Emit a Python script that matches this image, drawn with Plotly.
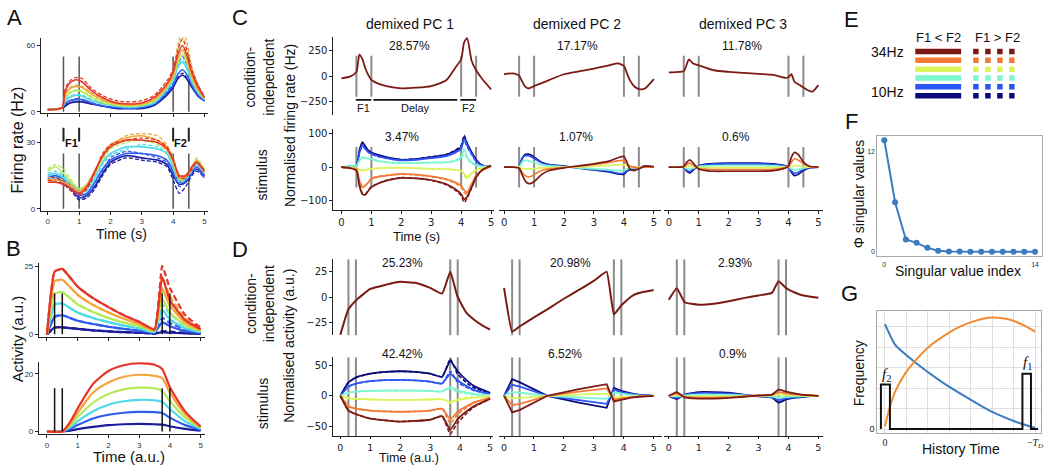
import plotly.graph_objects as go

W, H = 1051, 469
SANS = "Liberation Sans, Arial, sans-serif"
DJV = "DejaVu Sans, sans-serif"
SERIF = "Liberation Serif, DejaVu Serif, serif"

# colours: index 0 = 10 Hz (navy) ... 5 = 34 Hz (red)
AB_COLORS = ["#1c1c9c", "#2f5bf0", "#4fd9ea", "#b4ea5a", "#f4a53b", "#e5352a"]
CD_COLORS = ["#0a0a7a", "#2b55f5", "#7cf7d0", "#daf55a", "#f47a35", "#7b1a14"]

# ---------------- Panel A (firing rate, Hz) ----------------
A_T1 = [0, 0.45, 0.55, 0.7, 0.9, 1.1, 1.4, 1.8, 2.2, 2.6, 3.0, 3.4, 3.8, 4.0, 4.15, 4.3, 4.45, 4.6, 4.8, 5.0]
A1_SOLID = [
    [2, 3.5, 5, 8, 9, 9, 7, 5, 3, 3, 3, 6, 15, 22, 30, 33, 29, 22, 14, 10],
    [2, 3.5, 7, 10, 11, 11, 8, 5, 4, 3, 4, 7, 17, 24, 34, 38, 33, 24, 15, 10],
    [2, 3.5, 9, 13, 15, 14, 10, 7, 5, 4, 5, 8, 20, 28, 40, 45, 38, 27, 17, 11],
    [2, 3.5, 12, 17, 19, 18, 13, 8, 6, 5, 6, 10, 22, 31, 44, 52, 44, 30, 19, 12],
    [2, 3.5, 15, 21, 23, 22, 16, 10, 7, 6, 7, 11, 23, 33, 48, 56, 47, 32, 20, 12],
    [2, 3.5, 18, 26, 29, 27, 19, 12, 8, 7, 8, 13, 25, 36, 52, 60, 50, 35, 22, 13],
]
A1_DASH = [
    [2, 3.5, 5, 8, 9, 9, 7, 5, 3, 3, 3, 6, 16, 23, 31, 35, 30, 23, 15, 10],
    [2, 3.5, 7, 10, 12, 11, 8, 5, 4, 3, 4, 7, 18, 27, 42, 50, 42, 30, 18, 11],
    [2, 3.5, 10, 14, 16, 15, 11, 7, 5, 4, 5, 9, 21, 30, 42, 47, 40, 28, 18, 11],
    [2, 3.5, 13, 18, 20, 19, 14, 9, 6, 5, 6, 10, 24, 34, 55, 68, 57, 38, 22, 13],
    [2, 3.5, 16, 22, 24, 23, 17, 11, 8, 7, 8, 12, 26, 36, 60, 74, 62, 40, 24, 13],
    [2, 3.5, 20, 28, 31, 30, 21, 14, 10, 9, 10, 15, 28, 38, 56, 66, 54, 38, 24, 14],
]
A_T2 = [0, 0.25, 0.5, 0.75, 1.0, 1.25, 1.5, 1.75, 2.0, 2.5, 3.0, 3.5, 3.8, 4.0, 4.2, 4.4, 4.6, 4.75, 5.0]
A2_SOLID = [
    [14, 14, 12, 9, 5, 6, 10, 16, 21, 24, 23, 22, 20, 15, 11, 12, 16, 18, 15],
    [14, 15, 13, 9, 6, 7, 12, 18, 22, 25, 25, 24, 22, 17, 12, 13, 17, 19, 15],
    [15, 16, 14, 11, 8, 9, 14, 21, 25, 28, 28, 27, 25, 19, 13, 14, 18, 20, 16],
    [17, 19, 16, 12, 9, 11, 17, 23, 28, 31, 31, 30, 27, 21, 14, 15, 19, 22, 17],
    [13, 13, 12, 10, 8, 11, 17, 24, 29, 32, 33, 31, 28, 22, 14, 15, 19, 22, 17],
    [12, 12, 11, 9, 7, 10, 17, 24, 28, 31, 31, 30, 27, 22, 15, 15, 19, 21, 17],
]
A2_DASH = [
    [13, 13, 11, 8, 4, 5, 9, 15, 20, 23, 22, 21, 19, 13, 7, 10, 15, 17, 14],
    [15, 16, 14, 10, 5, 6, 11, 17, 23, 26, 25, 23, 21, 16, 10, 12, 16, 18, 14],
    [16, 17, 15, 11, 7, 8, 13, 20, 24, 27, 29, 28, 25, 18, 12, 13, 17, 21, 17],
    [18, 20, 18, 13, 9, 10, 16, 22, 27, 30, 31, 29, 26, 20, 13, 14, 18, 23, 18],
    [14, 14, 13, 11, 8, 10, 16, 23, 28, 33, 34, 33, 29, 22, 13, 14, 18, 21, 16],
    [13, 12, 11, 8, 6, 9, 16, 25, 29, 31, 32, 31, 28, 23, 14, 14, 18, 21, 17],
]
A_EVENTS = [0.5, 1.0, 4.0, 4.5]

# ---------------- Panel B (model activity) ----------------
B_T1 = [0, 0.25, 0.5, 1.0, 1.5, 2.0, 2.5, 3.0, 3.5, 3.75, 4.0, 4.5, 5.0]
B1_SOLID = [
    [0, 2.5, 2.6, 2.0, 1.5, 1.1, 0.8, 0.6, 0.3, 0.8, 0.6, 0.4, 0.2],
    [0, 6.5, 7.0, 5.0, 3.8, 2.8, 2.0, 1.4, 0.6, 4.5, 3.0, 1.3, 0.5],
    [0, 11, 11.3, 8.0, 6.0, 4.5, 3.2, 2.2, 0.9, 9.0, 5.5, 2.2, 0.8],
    [0, 15, 15.5, 11, 8.2, 6.0, 4.3, 3.0, 1.2, 13, 8.0, 3.2, 1.2],
    [0, 19.5, 20, 14.5, 10.8, 8.0, 5.7, 3.8, 1.5, 17, 10.5, 4.2, 1.5],
    [0, 23, 24, 17.5, 13.3, 10, 7.0, 4.6, 1.8, 21, 12.5, 5.2, 1.9],
]
B1_DASH = [
    [0, 2.5, 2.6, 2.0, 1.5, 1.1, 0.8, 0.6, 0.3, 1.2, 1.0, 0.6, 0.3],
    [0, 6.5, 7.0, 5.0, 3.8, 2.8, 2.0, 1.4, 0.6, 6.0, 4.2, 1.8, 0.7],
    [0, 11, 11.3, 8.0, 6.0, 4.5, 3.2, 2.2, 0.9, 11, 7.5, 3.2, 1.1],
    [0, 15, 15.5, 11, 8.2, 6.0, 4.3, 3.0, 1.2, 16, 11, 4.5, 1.6],
    [0, 19.5, 20, 14.5, 10.8, 8.0, 5.7, 3.8, 1.5, 21, 14, 5.8, 2.0],
    [0, 23, 24, 17.5, 13.3, 10, 7.0, 4.6, 1.8, 25, 17, 7.0, 2.5],
]
B_T2 = [0, 0.5, 0.75, 1.0, 1.5, 2.0, 2.5, 3.0, 3.5, 3.75, 4.0, 4.5, 5.0]
B2_SOLID = [
    [0, 0, 0.3, 0.8, 1.6, 2.2, 2.5, 2.6, 2.5, 2.4, 1.8, 0.9, 0.3],
    [0, 0, 0.9, 2.2, 4.5, 5.8, 6.5, 6.8, 6.7, 6.4, 4.8, 2.2, 0.6],
    [0, 0, 1.4, 3.5, 7.0, 9.3, 10.5, 11, 10.8, 10.3, 7.8, 3.5, 0.9],
    [0, 0, 2.0, 5.0, 10, 13, 14.6, 15.2, 15, 14, 10.5, 4.8, 1.2],
    [0, 0, 2.6, 6.5, 13.5, 17, 19, 19.7, 19.3, 18.5, 13.5, 6.0, 1.5],
    [0, 0, 3.2, 8.0, 16.5, 21, 23, 23.7, 23.2, 21.7, 15.4, 6.9, 1.7],
]
B_EVENTS = [0.25, 0.5, 3.75, 4.0]

# ---------------- Panel C (dPCA of data) ----------------
C_T = [0, 0.3, 0.5, 0.6, 0.7, 0.8, 0.9, 1.0, 1.25, 1.5, 2.0, 2.5, 3.0, 3.5, 3.8, 4.0, 4.1, 4.2, 4.35, 4.5, 4.7, 5.0]
C_TOP_PC1 = [-22, -2, 42, 210, 165, 75, 10, -35, -75, -96, -118, -112, -96, -40, 80, 165, 330, 370, 150, 58, -25, -128]
C_TOP_PC2 = [19, 28, 5, -50, -100, -119, -110, -96, -68, -38, 19, 48, 74, 105, 125, 100, 30, -38, -100, -125, -120, -29]
C3_T_TOP = [0, 0.5, 0.67, 0.8, 1.0, 1.5, 2.0, 2.5, 3.0, 3.5, 3.9, 4.0, 4.1, 4.2, 4.4, 4.6, 4.8, 5.0]
C_TOP_PC3 = [38, 50, 163, 125, 106, 58, 42, 32, 22, 13, -16, -10, 19, -54, -90, -128, -150, -87]
C_BOT_PC1 = [
    [0, 2, 5, 50, 75, 62, 50, 44, 36, 30, 22, 24, 30, 37, 48, 60, 90, 70, 45, 22, 6, 2],
    [0, 2, 4, 42, 65, 55, 45, 40, 32, 27, 20, 22, 27, 33, 43, 55, 85, 65, 40, 18, 5, 2],
    [0, 3, 4, 20, 30, 28, 26, 25, 18, 15, 12, 13, 14, 15, 20, 30, 55, 30, 15, 5, 2, 3],
    [0, -2, -3, -8, -10, -8, -6, -5, -3, -2, -2, -3, -5, -6, -8, -10, -20, -30, -18, -8, -3, 2],
    [0, -3, -5, -40, -60, -55, -45, -35, -28, -25, -20, -22, -27, -35, -45, -55, -68, -75, -50, -25, -10, 3],
    [0, -3, -10, -55, -80, -82, -70, -60, -48, -40, -32, -33, -38, -50, -65, -80, -95, -88, -60, -30, -8, 5],
]
C_BOT_PC1_DASH = [
    [0, 3, 6, 48, 72, 60, 48, 42, 35, 29, 23, 25, 31, 38, 50, 65, 95, 72, 42, 20, 5, 2],
    [0, 2, 5, 40, 62, 53, 44, 39, 31, 26, 21, 23, 28, 34, 45, 58, 80, 60, 38, 17, 5, 2],
    [0, 2, 4, 18, 28, 27, 25, 23, 17, 14, 11, 12, 13, 14, 18, 25, 40, 25, 12, 4, 2, 3],
    [0, -2, -3, -7, -9, -8, -6, -5, -3, -1, -1, -2, -4, -5, -7, -12, -25, -35, -20, -8, -3, 2],
    [0, -3, -5, -38, -58, -53, -44, -34, -27, -24, -21, -23, -28, -37, -48, -60, -75, -80, -55, -28, -10, 3],
    [0, -3, -10, -52, -78, -80, -68, -58, -47, -39, -31, -33, -39, -52, -68, -85, -105, -92, -62, -30, -8, 5],
]
C_BOT_PC2 = [
    [0, 1, 2, 25, 38, 39, 36, 30, 15, 8, 3, -3, -8, -14, -20, -21, -12, -8, -5, -2, 3, 0],
    [0, 1, 2, 28, 34, 34, 31, 26, 13, 7, 2, -2, -7, -12, -18, -18, -10, -6, -4, -2, 2, 0],
    [0, 0, 1, 15, 20, 19, 17, 14, 7, 4, 1, -2, -5, -8, -10, -10, -5, -3, -2, -1, 1, 0],
    [0, 0, 0, -3, -5, -5, -5, -4, -2, -1, 0, 1, 3, 5, 7, 7, 4, 2, 1, 0, 0, 0],
    [0, 0, -2, -15, -25, -29, -27, -22, -10, -5, -1, 3, 8, 14, 19, 20, 10, 3, 0, -2, 0, 0],
    [0, 0, -3, -22, -40, -48, -48, -43, -22, -10, -2, 4, 10, 18, 28, 32, 15, -5, -10, -5, 3, 2],
]
C_BOT_PC3 = [
    [0, 0, 0, -12, -17, -10, -2, 4, 9, 11, 12, 12, 12, 10, 6, 0, -15, -25, -20, -10, -2, 0],
    [0, 0, 0, -9, -13, -7, -1, 3, 7, 9, 10, 10, 10, 8, 5, 0, -12, -18, -14, -7, -1, 0],
    [0, 0, 0, -4, -6, -3, 0, 2, 4, 5, 5, 5, 5, 4, 2, 0, -5, -8, -6, -3, 0, 0],
    [0, 0, 0, 2, 3, 2, 0, -1, -1, -1, -1, -1, -1, -1, 0, 1, 3, 5, 4, 2, 0, 0],
    [0, 0, 1, 8, 12, 7, 1, -4, -6, -7, -7, -7, -7, -6, -3, 2, 15, 25, 20, 10, 2, 0],
    [0, 0, 2, 15, 22, 14, 3, -5, -10, -12, -12, -12, -12, -10, -5, 3, 30, 44, 35, 15, 3, 0],
]
C_EVENTS = [0.5, 1.0, 4.0, 4.5]
C_PERIODS = [(0.48, 1.0, "F1"), (1.07, 3.87, "Delay"), (3.97, 4.5, "F2")]
C_PCT_TOP = ["28.57%", "17.17%", "11.78%"]
C_PCT_BOT = ["3.47%", "1.07%", "0.6%"]

# ---------------- Panel D (dPCA of model) ----------------
D_TOP_T1 = [0, 0.27, 0.53, 1.0, 1.5, 2.0, 2.5, 3.0, 3.4, 3.67, 3.9, 4.2, 4.5, 4.75, 5.0]
D_TOP_PC1 = [-37, -12, -3, 8, 12, 15, 14, 9, 3.5, 25, 1.5, -15, -23, -28, -32]
D_TOP_T2 = [0, 0.27, 0.53, 1.0, 1.5, 2.0, 2.5, 3.0, 3.43, 3.67, 3.92, 4.25, 4.5, 5.0]
D_TOP_PC2 = [9, -34, -28.6, -20, -11, -1.6, 7, 16, 25, -17, -8, 0.6, 4, 7]
D_TOP_T3 = [0, 0.27, 0.53, 1.0, 1.5, 2.0, 2.5, 3.0, 3.45, 3.67, 3.92, 4.25, 4.5, 5.0]
D_TOP_PC3 = [-2.6, 8.8, -5, -7.5, -6.5, -4, -1, 1.6, 4.2, 15.6, 8.8, 4, 1.6, -0.6]
D_BOT_T1 = [0, 0.27, 0.53, 1.0, 1.5, 2.0, 2.5, 3.0, 3.4, 3.67, 3.92, 4.25, 4.5, 5.0]
D_BOT_PC1 = [
    [0, 22, 30, 36, 39, 40, 39, 36, 31, 57, 40, 24, 15, 5],
    [0, 15, 20, 24, 25.5, 26, 25, 23, 20, 36, 25, 15, 9, 3],
    [0, 5, 7, 8, 8.5, 8.5, 8.5, 8, 7, 14, 9, 5, 3, 1],
    [0, -4, -5, -6, -6.5, -6.5, -6.5, -6, -5.5, -10, -7, -4, -3, -1],
    [0, -17, -21, -24, -25.5, -26, -25.5, -24, -21, -38, -26, -16, -10, -3],
    [0, -24, -30, -37, -40, -42, -41, -39, -33, -55, -38, -24, -16, -5],
]
D_BOT_PC1_DASH = [
    [0, 22, 30, 36, 39, 40, 39, 36, 31, 60, 35, 20, 12, 4],
    [0, 15, 20, 24, 25.5, 26, 25, 23, 20, 40, 22, 13, 8, 3],
    [0, 5, 7, 8, 8.5, 8.5, 8.5, 8, 7, 12, 6, 3, 2, 1],
    [0, -4, -5, -6, -6.5, -6.5, -6.5, -6, -5.5, -12, -5, -3, -2, -1],
    [0, -17, -21, -24, -25.5, -26, -25.5, -24, -21, -45, -30, -18, -11, -3],
    [0, -24, -30, -37, -40, -42, -41, -39, -33, -62, -44, -27, -17, -5],
]
D_BOT_T2 = [0, 0.27, 0.53, 1.45, 2.5, 3.43, 3.67, 3.92, 4.25, 4.5, 5.0]
D_BOT_PC2 = [
    [0, 27, 22, 0, -11, -19.5, 13, 8, 4, 2, 0],
    [0, 18, 15, 0, -7, -13, 10, 6, 3, 1.5, 0],
    [0, 6, 5, 0, -2.5, -5, 5, 3, 1.5, 0.7, 0],
    [0, -4, -3.5, 0, 2, 3.5, -2, -1.5, -1, -0.5, 0],
    [0, -15, -13, 0, 7, 12, -6, -4, -2, -1, 0],
    [0, -27, -23, 0, 11, 19, -9, -6, -3, -1.5, 0],
]
D_BOT_T3 = [0, 0.27, 0.53, 1.0, 1.5, 2.0, 2.5, 3.0, 3.45, 3.67, 3.92, 4.25, 4.5, 5.0]
D_BOT_PC3 = [
    [0, -5, 2, 6, 6, 5, 2, -1, -3, -11, -6, -3, -1.5, 0],
    [0, -3, 1.5, 4.5, 4.5, 3.5, 1.5, -0.5, -2, -7, -4, -2, -1, 0],
    [0, -1, 0.5, 2, 2, 1.5, 0.5, -0.2, -1, -3, -2, -1, -0.5, 0],
    [0, 1, -0.5, -1, -1, -0.8, -0.3, 0.2, 0.5, 2, 1.5, 0.8, 0.4, 0],
    [0, 3.5, -1.5, -3, -3, -2.5, -1, 0.5, 1.5, 6, 4, 2, 1, 0],
    [0, 6, -2.5, -4.5, -4.5, -3.5, -1.5, 0.5, 2, 10, 7, 3.5, 1.5, 0],
]
D_EVENTS = [0.27, 0.52, 3.67, 3.92]
D_PCT_TOP = ["25.23%", "20.98%", "2.93%"]
D_PCT_BOT = ["42.42%", "6.52%", "0.9%"]

# ---------------- Panel E (legend key) ----------------
E_LEVELS = [0, 1, 2, 3, 4, 5]
E_SOLID_X = [2, 48]
E_DOT_X = [60, 101.5]

# ---------------- Panel F ----------------
F_INDEX = [0, 1, 2, 3, 4, 5, 6, 7, 8, 9, 10, 11, 12, 13, 14]
F_VALUES = [13.3, 5.9, 1.45, 1.05, 0.45, 0.1, 0.03, 0.01, 0, 0, 0, 0, 0, 0, 0]

# ---------------- Panel G ----------------
G_BLUE_X = [0, 0.067, 0.2, 0.378, 0.556, 0.711, 0.867, 1.0]
G_BLUE_Y = [5.13, 4.13, 3.27, 2.31, 1.5, 0.85, 0.37, 0.05]
G_ORANGE_X = [0, 0.033, 0.067, 0.133, 0.2, 0.289, 0.378, 0.489, 0.6, 0.711, 0.822, 0.933, 1.0]
G_ORANGE_Y = [0.13, 1.1, 1.82, 2.7, 3.32, 4.0, 4.48, 4.97, 5.29, 5.45, 5.37, 5.05, 4.77]
G_STIM_X = [-0.027, -0.027, 0.033, 0.033, 0.916, 0.916, 0.973, 0.973, 1.02]
G_STIM_Y = [0, 2.18, 2.18, 0, 0, 2.71, 2.71, 0, 0]

# =====================================================================
fig = go.Figure()
layout = dict(width=W, height=H, margin=dict(l=0, r=0, t=0, b=0), autosize=False,
              paper_bgcolor="white", plot_bgcolor="rgba(0,0,0,0)", showlegend=False,
              hovermode=False)
annotations = []
shapes = []


def key(n):
    return "" if n == 1 else str(n)


def add_axes(n, xl, xr, xrng, yt, yb, yrng, xs=None, ys=None):
    k = key(n)
    base = dict(showgrid=False, zeroline=False, showline=False, showticklabels=False,
                ticks="", fixedrange=True)
    xa = dict(base, domain=[xl / W, xr / W], range=xrng, anchor="y" + k)
    ya = dict(base, domain=[1 - yb / H, 1 - yt / H], range=yrng, anchor="x" + k)
    if xs:
        xa.update(xs)
    if ys:
        ya.update(ys)
    layout["xaxis" + k] = xa
    layout["yaxis" + k] = ya


def spine(vals, labels=True, font=None, text=None, ticklen=3, color="#222"):
    d = dict(showline=True, linecolor=color, linewidth=1, ticks="outside", ticklen=ticklen,
             tickwidth=1, tickcolor=color, tickvals=vals, showticklabels=labels)
    if font:
        d["tickfont"] = font
    if text is not None:
        d["ticktext"] = text
    return d


def line(n, x, y, color, width=1.8, dash=None, shape="spline", smoothing=0.7):
    k = key(n)
    ln = dict(color=color, width=width, shape=shape)
    if shape == "spline":
        ln["smoothing"] = smoothing
    if dash:
        ln["dash"] = dash
    fig.add_trace(go.Scatter(x=x, y=y, mode="lines", line=ln, xaxis="x" + k, yaxis="y" + k,
                             hoverinfo="skip", showlegend=False))


def vlines(n, times, lo, hi, color, width):
    xs, ys = [], []
    for t in times:
        xs += [t, t, None]
        ys += [lo, hi, None]
    line(n, xs, ys, color, width=width, shape="linear")


def txt(s, x, y, size, family=SANS, angle=0, color="#111", xanchor="center", **kw):
    annotations.append(dict(text=s, x=x / W, y=1 - y / H, xref="paper", yref="paper",
                            showarrow=False, font=dict(size=size, family=family, color=color),
                            textangle=angle, xanchor=xanchor, yanchor="middle", **kw))


ABF = dict(size=8, family=SANS, color="#333")
CDF = dict(size=10, family=DJV, color="#222")
CDF_S = dict(size=9.5, family=DJV, color="#222")
T05 = [0, 1, 2, 3, 4, 5]

# ---- axes ----
add_axes(1, 41, 208, [-0.22, 5.1], 37, 113, [-0.9, 67.1],
         xs=spine(T05, labels=False), ys=spine([0, 60], font=ABF))
add_axes(2, 41, 208, [-0.22, 5.1], 128, 212, [-0.9, 36.7],
         xs=spine(T05, font=ABF), ys=spine([0, 30], font=ABF))
add_axes(3, 39, 205, [-0.26, 5.13], 265, 340, [-1.1, 26.1],
         xs=spine(T05, labels=False), ys=spine([0, 25], font=ABF))
add_axes(4, 39, 205, [-0.26, 5.13], 365, 438, [-1.0, 24.1],
         xs=spine(T05, font=ABF), ys=spine([0, 20], font=ABF))

C_COLS = [(334, 495, [-0.27, 5.1]), (500, 662, [-0.17, 5.23]), (665, 825, [-0.17, 5.17])]
D_COLS = [(334, 494, [-0.233, 5.1]), (500, 663, [-0.167, 5.27]), (665, 825, [-0.167, 5.17])]
C_TOP_R = [-375, 385]
C_BOT_R = [-126.5, 114.7]
D_TOP_R = [-37.6, 37.2]
D_BOT_R = [-66, 63]
for i, (l, r, xr) in enumerate(C_COLS):
    add_axes(5 + i, l, r, xr, 36, 115, C_TOP_R,
             ys=spine([-250, 0, 250], font=CDF) if i == 0 else None)
    add_axes(8 + i, l, r, xr, 129, 211, C_BOT_R, xs=spine(T05, font=CDF),
             ys=spine([-100, 0, 100], font=CDF) if i == 0 else None)
for i, (l, r, xr) in enumerate(D_COLS):
    add_axes(11 + i, l, r, xr, 261, 338, D_TOP_R,
             ys=spine([-25, 0, 25], font=CDF) if i == 0 else None)
    add_axes(14 + i, l, r, xr, 360, 440, D_BOT_R, xs=spine(T05, font=CDF_S, ticklen=2),
             ys=spine([-50, 0, 50], font=CDF) if i == 0 else None)

add_axes(17, 915, 1020, [0, 105], 46.5, 100.2, [-0.5, 5.5])
FF = dict(size=7, family=SANS, color="#333")
add_axes(18, 879, 1044, [-0.65, 14.65], 136, 258, [-0.55, 13.85],
         xs=dict(showline=True, mirror=True, linecolor="#aaa", linewidth=1, tickvals=[0, 14],
                 showticklabels=True, tickfont=FF, ticks="", ticklabelstandoff=1),
         ys=dict(showline=True, mirror=True, linecolor="#aaa", linewidth=1, tickvals=[0, 12],
                 showticklabels=True, tickfont=FF, ticks=""))
GT = [0, 1 / 7, 2 / 7, 3 / 7, 4 / 7, 5 / 7, 6 / 7, 1.0]
add_axes(19, 879, 1043, [-0.051, 1.04], 313, 437, [-0.21, 5.79],
         xs=dict(showline=True, mirror=True, linecolor="#aaa", linewidth=1, tickvals=GT,
                 ticktext=["0", "", "", "", "", "", "", "\u2212<i>T</i><sub><i>D</i></sub>"],
                 showticklabels=True, showgrid=True, gridcolor="#dedede", gridwidth=1,
                 tickfont=dict(size=10, family=SERIF, color="#222")),
         ys=dict(showline=True, mirror=True, linecolor="#aaa", linewidth=1,
                 tickvals=[0, 1, 2, 3, 4, 5], ticktext=["0", "", "", "", "", ""],
                 showticklabels=True, showgrid=True, gridcolor="#dedede", gridwidth=1,
                 tickfont=dict(size=9, family=SANS, color="#222")))

# ---- Panel A traces ----
vlines(1, A_EVENTS, 0, 50, "#555", 1.5)
vlines(2, A_EVENTS, 0, 25, "#555", 1.5)
for i in range(6):
    line(1, A_T1, A1_DASH[i], AB_COLORS[i], width=1.3, dash="4px,2px")
    line(1, A_T1, A1_SOLID[i], AB_COLORS[i], width=1.6)
    line(2, A_T2, A2_DASH[i], AB_COLORS[i], width=1.3, dash="4px,2px")
    line(2, A_T2, A2_SOLID[i], AB_COLORS[i], width=1.6)
for (t0, t1), lab in [((A_EVENTS[0], A_EVENTS[1]), "F1"), ((A_EVENTS[2], A_EVENTS[3]), "F2")]:
    for t in (t0, t1):
        shapes.append(dict(type="line", xref="x2", yref="paper", x0=t, x1=t,
                           y0=1 - 142 / H, y1=1 - 128 / H, line=dict(color="#222", width=2)))
    annotations.append(dict(text="<b>%s</b>" % lab, x=(t0 + t1) / 2, y=1 - 135 / H, xref="x2",
                            yref="paper", showarrow=False,
                            font=dict(size=11, family=SANS, color="#111")))

# ---- Panel B traces ----
for i in range(6):
    line(3, B_T1, B1_DASH[i], AB_COLORS[i], width=2.2, dash="6px,3px", smoothing=0.4)
    line(3, B_T1, B1_SOLID[i], AB_COLORS[i], width=2.2, smoothing=0.4)
    line(4, B_T2, B2_SOLID[i], AB_COLORS[i], width=2.2, smoothing=0.6)
vlines(3, B_EVENTS, 0, 15, "#111", 1.5)
vlines(4, B_EVENTS, 0, 15, "#111", 1.5)

# ---- Panel C traces ----
EV = "#8c8c8c"
for i in range(3):
    vlines(5 + i, C_EVENTS, -200, 200, EV, 2)
    vlines(8 + i, C_EVENTS, -60, 60, EV, 2)
line(5, C_T, C_TOP_PC1, CD_COLORS[5], width=1.8, smoothing=0.6)
line(6, C_T, C_TOP_PC2, CD_COLORS[5], width=1.8, smoothing=0.6)
line(7, C3_T_TOP, C_TOP_PC3, CD_COLORS[5], width=1.8, smoothing=0.6)
for i in range(6):
    line(8, C_T, C_BOT_PC1_DASH[i], CD_COLORS[i], width=1.5, dash="4px,2px", smoothing=0.6)
    line(8, C_T, C_BOT_PC1[i], CD_COLORS[i], width=1.7, smoothing=0.6)
    line(9, C_T, C_BOT_PC2[i], CD_COLORS[i], width=1.7, smoothing=0.6)
    line(10, C_T, C_BOT_PC3[i], CD_COLORS[i], width=1.7, smoothing=0.6)
for t0, t1, lab in C_PERIODS:
    line(5, [t0, t1], [-230, -230], "#111", width=1.6, shape="linear")
    annotations.append(dict(text=lab, x=(t0 + t1) / 2, y=-310, xref="x5", yref="y5",
                            showarrow=False, font=dict(size=11, family=SANS, color="#111")))

# ---- Panel D traces ----
for i in range(3):
    vlines(11 + i, D_EVENTS, D_TOP_R[0], D_TOP_R[1], EV, 2)
    vlines(14 + i, D_EVENTS, D_BOT_R[0], D_BOT_R[1], EV, 2)
line(11, D_TOP_T1, D_TOP_PC1, CD_COLORS[5], width=2, smoothing=0.4)
line(12, D_TOP_T2, D_TOP_PC2, CD_COLORS[5], width=2, smoothing=0.3)
line(13, D_TOP_T3, D_TOP_PC3, CD_COLORS[5], width=2, smoothing=0.4)
for i in range(6):
    line(14, D_BOT_T1, D_BOT_PC1_DASH[i], CD_COLORS[i], width=1.6, dash="4px,2px", smoothing=0.4)
    line(14, D_BOT_T1, D_BOT_PC1[i], CD_COLORS[i], width=1.8, smoothing=0.4)
    line(15, D_BOT_T2, D_BOT_PC2[i], CD_COLORS[i], width=1.8, shape="linear")
    line(16, D_BOT_T3, D_BOT_PC3[i], CD_COLORS[i], width=1.8, smoothing=0.4)

# ---- Panel E ----
for lvl in E_LEVELS:
    line(17, E_SOLID_X, [lvl, lvl], CD_COLORS[lvl], width=5.5, shape="linear")
    line(17, E_DOT_X, [lvl, lvl], CD_COLORS[lvl], width=5.5, dash="5.5px,6.5px", shape="linear")

# ---- Panel F ----
fig.add_trace(go.Scatter(x=F_INDEX, y=F_VALUES, mode="lines+markers", xaxis="x18", yaxis="y18",
                         line=dict(color="#3b7bbf", width=2), marker=dict(size=6, color="#3b7bbf"),
                         hoverinfo="skip", showlegend=False))

# ---- Panel G ----
line(19, G_BLUE_X, G_BLUE_Y, "#3b7bbf", width=2, smoothing=0.5)
line(19, G_ORANGE_X, G_ORANGE_Y, "#f28a30", width=2, smoothing=0.8)
line(19, G_STIM_X, G_STIM_Y, "#111", width=2, shape="linear")

# ---- texts ----
for s, x, y in [("A", 15, 17), ("B", 14, 250), ("C", 240, 17), ("D", 240, 251),
                ("E", 853, 19), ("F", 853, 122), ("G", 851, 296)]:
    txt(s, x, y, 22)
txt("Firing rate (Hz)", 18, 140, 16, angle=-90)
txt("Time (s)", 122, 236, 14)
txt("Activity (a.u.)", 17, 341, 15, angle=-90)
txt("Time (a.u.)", 129, 460, 15)

for s, x in [("demixed PC 1", 411), ("demixed PC 2", 578), ("demixed PC 3", 744)]:
    txt(s, x, 23, 14)
for s, x in zip(C_PCT_TOP, [410, 579, 743]):
    txt(s, x, 45, 12)
for s, x in zip(C_PCT_BOT, [403, 577, 737]):
    txt(s, x, 137, 12)
for s, x in zip(D_PCT_TOP, [403, 572, 736]):
    txt(s, x, 265, 12)
for s, x in zip(D_PCT_BOT, [403, 566, 734]):
    txt(s, x, 357, 12)

txt("condition-<br>independent", 260, 77, 14, angle=-90)
txt("stimulus", 263, 176, 14, angle=-90)
txt("Normalised firing rate (Hz)", 290, 126, 14, angle=-90)
txt("Time (s)", 417, 238, 13)
txt("condition-<br>independent", 260, 306, 14, angle=-90)
txt("stimulus", 263, 407, 14, angle=-90)
txt("Normalised activity (a.u.)", 290, 348, 14, angle=-90)
txt("Time (a.u.)", 410, 461.5, 12.5)

txt("F1 &lt; F2", 940, 37, 13)
txt("F1 &gt; F2", 999, 37, 13)
txt("34Hz", 908, 52, 14, xanchor="right")
txt("10Hz", 908, 92, 14, xanchor="right")

txt("\u03a6 singular values", 861, 195, 14, angle=-90)
txt("Singular value index", 960, 273, 14)
txt("Frequency", 861, 376, 14, angle=-90)
txt("History Time", 963, 453, 14)
txt("<i>f</i><sub>2</sub>", 888, 378, 15, family=SERIF)
txt("<i>f</i><sub>1</sub>", 1029, 366, 15, family=SERIF)

layout["annotations"] = annotations
layout["shapes"] = shapes
fig.update_layout(**layout)
fig.write_html("out.html", config={"displayModeBar": False, "staticPlot": True},
               post_script="document.body.style.margin='0px';")
